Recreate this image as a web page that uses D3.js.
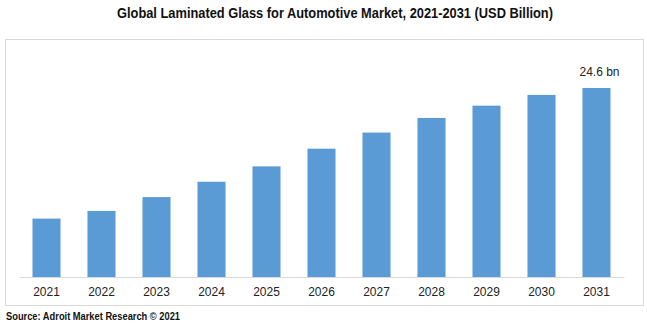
<!DOCTYPE html>
<html>
<head>
<meta charset="utf-8">
<script src="https://cdn.jsdelivr.net/npm/d3@7"></script>
<style>
  body { margin: 0; background: #fff; }
</style>
</head>
<body>
<div id="chart"></div>
<script>

var years = ["2021", "2022", "2023", "2024", "2025", "2026", "2027", "2028", "2029", "2030", "2031"]

var values = [7.6, 8.6, 10.4, 12.4, 14.4, 16.7, 18.8, 20.7, 22.3, 23.7, 24.6]

var lastLabel = "24.6 bn"

var width = 647, height = 325

var svg = d3.select("#chart")
	.append("svg")
	.attr("width", width)
	.attr("height", height)

// title (squeezed to match the narrow font of the original)
svg.append("text")
	.attr("x", 117)
	.attr("y", 18)
	.attr("textLength", 436)
	.attr("lengthAdjust", "spacingAndGlyphs")
	.attr("font-family", "Liberation Sans, Arial, sans-serif")
	.attr("font-weight", "bold")
	.attr("font-size", 14)
	.attr("fill", "#111")
	.text("Global Laminated Glass for Automotive Market, 2021-2031 (USD Billion)")

// frame
svg.append("rect")
	.attr("x", 5.5)
	.attr("y", 39.5)
	.attr("width", 638)
	.attr("height", 266)
	.attr("fill", "none")
	.attr("stroke", "#d9d9d9")
	.attr("stroke-width", 1)

var x = d3.scaleBand()
	.domain(years)
	.range([19, 624])
	.paddingInner(0.49)
	.paddingOuter(0.245)

var y = d3.scaleLinear()
	.domain([0, 24.6])
	.range([277, 88])

svg.append("g")
	.selectAll("rect")
	.data(values)
	.join("rect")
	.attr("x", (d, i) => x(years[i]))
	.attr("y", d => y(d))
	.attr("width", x.bandwidth())
	.attr("height", d => y(0) - y(d))
	.attr("fill", "#5b9bd5")

// x axis
var axis = svg.append("g")
	.attr("transform", "translate(0," + y(0) + ")")
	.call(d3.axisBottom(x).tickSize(0).tickPadding(10))

axis.select(".domain").attr("stroke", "#d9d9d9")

axis.selectAll("text")
	.attr("font-family", "Liberation Sans, Arial, sans-serif")
	.attr("font-size", 12)
	.attr("fill", "#222")

// value label on last bar
var last = years.length - 1
svg.append("text")
	.attr("x", x(years[last]) + x.bandwidth() / 2 + 3)
	.attr("y", y(values[last]) - 12)
	.attr("text-anchor", "middle")
	.attr("font-family", "Liberation Sans, Arial, sans-serif")
	.attr("font-size", 12)
	.attr("fill", "#222")
	.text(lastLabel)

// source
svg.append("text")
	.attr("x", 6)
	.attr("y", 320)
	.attr("textLength", 174)
	.attr("lengthAdjust", "spacingAndGlyphs")
	.attr("font-family", "Liberation Sans, Arial, sans-serif")
	.attr("font-weight", "bold")
	.attr("font-size", 11)
	.attr("fill", "#111")
	.text("Source: Adroit Market Research © 2021")

</script>
</body>
</html>
